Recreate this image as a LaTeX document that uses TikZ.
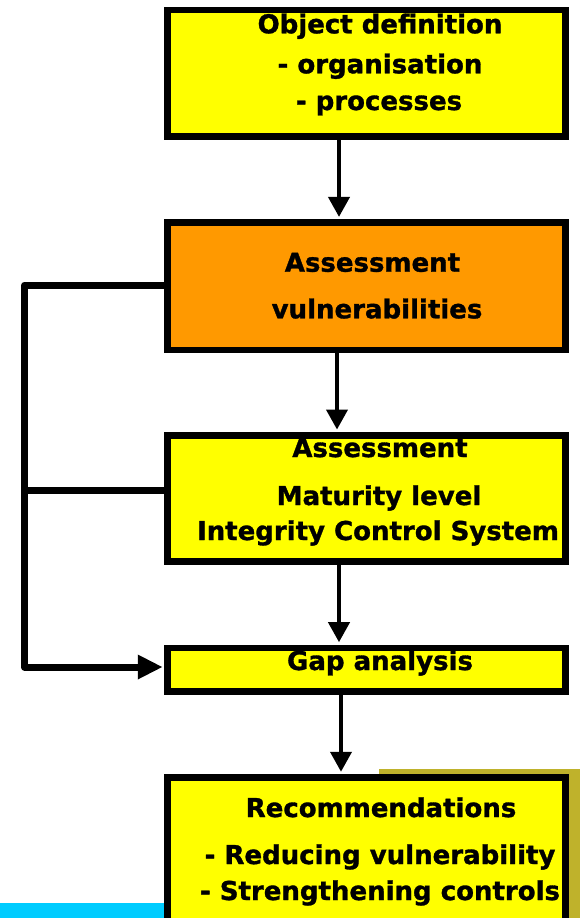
\documentclass[tikz,border=0pt]{standalone}
\usepackage{fontspec}
\setmainfont{DejaVu Sans}[BoldFeatures={FakeBold=1.2}]
\usetikzlibrary{positioning, arrows.meta}

\definecolor{boxyellow}{HTML}{FFFF00}
\definecolor{boxorange}{HTML}{FF9900}
\definecolor{shadowolive}{HTML}{BFB22B}
\definecolor{barcyan}{HTML}{00CCFF}

\tikzset{
  stage/.style={draw, line width=6.5pt, fill=boxyellow, minimum width=398pt, inner sep=0pt},
  caption/.style={anchor=base, inner sep=0pt, font=\fontsize{26}{31}\selectfont\bfseries},
  flow/.style={line width=4pt, -{Triangle[length=20pt,width=21pt]}, shorten >=2.5pt},
  feedback/.style={line width=7pt, line join=round}
}

\begin{document}
\begin{tikzpicture}[x=1pt, y=-1pt]
  \useasboundingbox (0,0) rectangle (580,918);

  % background bits
  \fill[barcyan] (0,903) rectangle (170,918);
  \fill[shadowolive] (379,769) rectangle (590,930);

  % the stages
  \node[stage, minimum height=126.5pt] (objdef) at (366.5,73.2) {};
  \node[stage, minimum height=127.3pt, fill=boxorange] (vuln) at (366.5,286.3) {};
  \node[stage, minimum height=126.2pt] (matur) at (366.5,498.4) {};
  \node[stage, minimum height=43.5pt] (gap) at (366.5,669.7) {};
  \node[stage, minimum height=170pt] (recom) at (366.5,862.5) {};

  % texts
  \node[caption] (objdef-a) at (380,33.3) {Object definition};
  \node[caption] (objdef-b) at (380,73.3) {- organisation};
  \node[caption] (objdef-c) at (379,110) {- processes};

  \node[caption] (vuln-a) at (372.5,271.7) {Assessment};
  \node[caption] (vuln-b) at (377,318.3) {vulnerabilities};

  \node[caption] (matur-a) at (380,457) {Assessment};
  \node[caption] (matur-b) at (379,505) {Maturity level};
  \node[caption] (matur-c) at (378,540) {Integrity Control System};

  \node[caption] (gap-a) at (380,670) {Gap analysis};

  \node[caption] (recom-a) at (381,817) {Recommendations};
  \node[caption] (recom-b) at (380,864) {- Reducing vulnerability};
  \node[caption] (recom-c) at (380,900) {- Strengthening controls};

  % arrows down
  \draw[flow] ([xshift=-27.5pt]objdef.south) -- ([xshift=-27.5pt]vuln.north);
  \draw[flow] ([xshift=-29.5pt]vuln.south) -- ([xshift=-29.5pt]matur.north);
  \draw[flow] ([xshift=-27.5pt]matur.south) -- ([xshift=-27.5pt]gap.north);
  \draw[flow] ([xshift=-25.5pt]gap.south) -- ([xshift=-25.5pt]recom.north);

  % loop on the left
  \coordinate (fb-top) at (24.5,285);
  \coordinate (fb-mid) at (24.5,490);
  \coordinate (fb-bot) at (24.5,667);
  \draw[feedback, -{Triangle[length=25pt,width=23pt]}, shorten >=1.5pt]
    (vuln.west |- fb-top) -- (fb-top) -- (fb-bot) -- (gap.west |- fb-bot);
  \draw[feedback] (fb-mid) -- ([xshift=3.5pt]matur.west |- fb-mid);
\end{tikzpicture}
\end{document}
